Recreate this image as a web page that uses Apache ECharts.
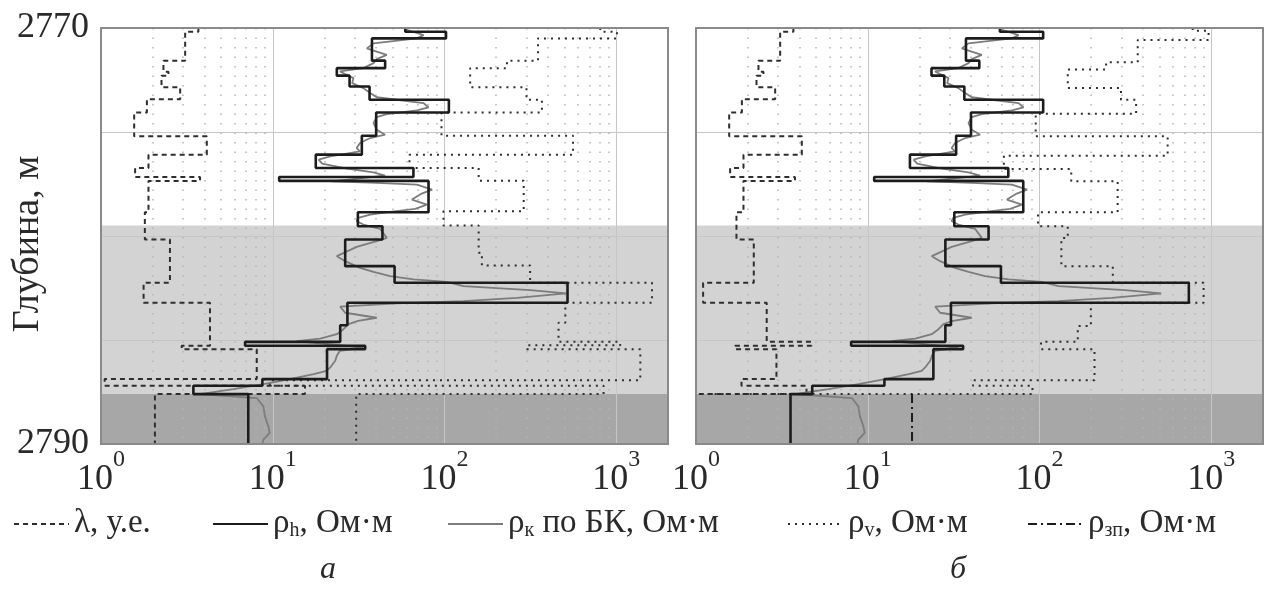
<!DOCTYPE html>
<html><head><meta charset="utf-8">
<script src="https://cdn.jsdelivr.net/npm/echarts@6/dist/echarts.min.js"></script>
<style>html,body{margin:0;padding:0;background:#fff;}#c{width:1266px;height:594px;}</style>
</head><body><div id="c"></div>
<script>
// ---------- DATA ----------
const depthMin = 2770, depthMax = 2790;
const depthLabels = [2770, 2790];
const xDecades = [1, 10, 100, 1000];
const minorTicks = [2,3,4,5,6,7,8,9,20,30,40,50,60,70,80,90,200,300,400,500,600,700,800,900];
const zoneLight = [2779.5, 2787.6];
const zoneDark = [2787.6, 2790];

// layer boundaries of the rho_h model (m)
const hDepth = [2770, 2770.18, 2770.50, 2771.57, 2771.93, 2772.29, 2772.81, 2773.45, 2774.06, 2775.18, 2776.09, 2776.73, 2777.16, 2777.35, 2778.86, 2779.53, 2780.17, 2781.45, 2782.25, 2783.21, 2784.29, 2785.09, 2785.28, 2785.44, 2786.88, 2787.20, 2787.60, 2790];
const rhoHLeft  = [59.1, 102, 37.8, 45.1, 23.6, 28.0, 36.6, 106, 40.0, 33.0, 17.8, 65.9, 10.9, 80.7, 31.3, 43.5, 26.4, 51.2, 520, 27.2, 24.7, 6.9, 34.5, 20.7, 8.7, 3.45, 7.2];
const rhoHRight = [58.8, 105, 37.3, 44.6, 23.5, 27.9, 36.5, 105, 39.9, 32.7, 17.6, 65.8, 10.9, 80.4, 31.9, 50.5, 28.3, 59.6, 740, 30.5, 28.3, 8.0, 35.9, 24.1, 12.5, 4.75, 3.55];

// lambda (anisotropy coefficient)
const lamLeftDepth = [2770, 2770.18, 2771.58, 2772.1, 2772.3, 2772.85, 2773.42, 2774.06, 2775.21, 2776.09, 2776.73, 2777.16, 2777.35, 2778.86, 2780.17, 2782.25, 2783.21, 2785.28, 2785.44, 2786.88, 2787.2, 2787.6, 2790];
const lamLeft = [3.69, 3.09, 2.31, 2.47, 2.25, 2.89, 1.85, 1.56, 4.13, 1.89, 1.58, 3.77, 1.89, 1.80, 2.52, 1.77, 4.31, 2.95, 8.07, 1.05, 15.4, 2.06];
const lamRightDepth = [2770, 2770.18, 2771.58, 2772.1, 2772.3, 2772.85, 2773.42, 2774.06, 2775.21, 2776.09, 2776.73, 2777.16, 2777.35, 2778.86, 2780.17, 2782.25, 2783.21, 2785.09, 2785.28, 2785.44, 2786.88, 2787.2, 2787.6, 2790];
const lamRight = [3.69, 3.09, 2.31, 2.47, 2.25, 2.89, 1.85, 1.56, 4.13, 1.89, 1.58, 3.77, 1.89, 1.72, 2.17, 1.10, 2.58, 4.7, 1.69, 2.94, 1.84, 4.4, 1.0];

// rho_v
const rvLeftDepth = [2770, 2770.18, 2770.50, 2771.58, 2771.93, 2772.85, 2773.45, 2774.06, 2775.18, 2776.09, 2776.73, 2777.34, 2778.81, 2779.50, 2780.81, 2781.42, 2782.25, 2783.21, 2784.17, 2785.09, 2785.25, 2785.44, 2786.93, 2787.2, 2787.6, 2790];
const rvLeft = [807, 1009, 350, 231, 141, 300, 369, 96, 560, 62.5, 158, 289, 98.6, 158, 165, 315, 1614, 505, 461, 1054, 302, 1380, 9.6, 843, 30.6];
const rvRightDepth = [2770, 2770.13, 2770.58, 2771.65, 2772.0, 2772.89, 2773.45, 2774.12, 2775.21, 2776.14, 2776.78, 2777.37, 2778.86, 2779.53, 2780.1, 2781.45, 2782.25, 2783.21, 2784.33, 2785.09, 2785.44, 2786.93, 2787.2, 2787.6, 2790];
const rvRight = [779, 964, 373, 244, 146, 298, 365, 95, 557, 62, 153, 285, 98, 146, 134, 267, 902, 199, 167, 102, 209, 41, 91, 1.0];

// rho_zp (invaded zone), right panel
const rzpDepth = [2787.6, 2790];
const rzp = [18.1];

// rho_k from lateral log (continuous curve)
const rkDepth = [2770.06, 2770.34, 2770.50, 2770.74, 2770.98, 2771.14, 2771.29, 2771.50, 2771.69, 2771.93, 2772.09, 2772.41, 2772.65, 2772.89, 2773.13, 2773.33, 2773.45, 2773.61, 2773.82, 2773.96, 2774.14, 2774.28, 2774.57, 2774.89, 2775.13, 2775.29, 2775.53, 2775.77, 2775.93, 2776.17, 2776.33, 2776.52, 2776.76, 2776.94, 2777.10, 2777.37, 2777.45, 2777.53, 2777.77, 2777.96, 2778.25, 2778.49, 2778.70, 2778.84, 2778.97, 2779.13, 2779.29, 2779.45, 2779.66, 2780.09, 2780.25, 2780.52, 2780.97, 2781.21, 2781.53, 2781.73, 2781.93, 2782.09, 2782.21, 2782.41, 2782.60, 2782.76, 2782.97, 2783.13, 2783.24, 2783.40, 2783.69, 2783.93, 2784.08, 2784.24, 2784.48, 2784.72, 2784.93, 2785.06, 2785.25, 2785.36, 2785.52, 2785.76, 2786.00, 2786.32, 2786.48, 2786.64, 2786.88, 2787.12, 2787.36, 2787.60, 2787.79, 2788.19, 2788.67, 2789.15, 2789.47, 2789.79, 2790.0];
const rkVal = [59, 75.5, 69, 38.6, 35.3, 40.3, 46.1, 40.3, 38.6, 33.7, 24.6, 29.5, 29, 33.7, 36.9, 40.3, 52.7, 75.5, 80.7, 69, 46.1, 40.3, 38.6, 40.3, 45.1, 36.9, 32.2, 30.8, 32.2, 21.6, 18.5, 19.4, 27, 38.6, 45.1, 22.1, 40.3, 69, 84.7, 73.7, 64.6, 78.9, 67.5, 48.2, 36.9, 31.4, 30.8, 33.7, 42.2, 46.1, 40.3, 30.8, 23.6, 26.4, 32.2, 38.6, 48.2, 66, 103, 129, 315, 511, 264, 129, 52.7, 24.7, 26.4, 40.3, 31.4, 27.6, 25.8, 23.6, 18.9, 13.8, 24.6, 33.7, 24.6, 23.6, 23.1, 21.6, 20.6, 17.3, 12.6, 8.83, 5.9, 3.77, 8.07, 8.82, 9.0, 9.43, 9.6, 8.82, 8.7];

const NAMES = {lam: 'λ, у.е.', rh: 'ρh, Ом·м', rk: 'ρк по БК, Ом·м', rv: 'ρv, Ом·м', rzp: 'ρзп, Ом·м'};
const legendRich = {
  [NAMES.lam]: '{t|λ, у.е.}',
  [NAMES.rh]: '{t|ρ}{sub|h}{t|, Ом·м}',
  [NAMES.rk]: '{t|ρ}{sub|к}{t| по БК, Ом·м}',
  [NAMES.rv]: '{t|ρ}{sub|v}{t|, Ом·м}',
  [NAMES.rzp]: '{t|ρ}{sub|зп}{t|, Ом·м}'
};

// ---------- HELPERS ----------
const FONT = '"Liberation Serif", "DejaVu Serif", serif';
const TXT = '#2a2a2a';
function stepPts(bounds, vals) {
  const p = [];
  for (let i = 0; i < vals.length; i++) { p.push([vals[i], bounds[i]]); p.push([vals[i], bounds[i + 1]]); }
  return p;
}
function curvePts(ds, vs) { return vs.map((v, i) => [v, ds[i]]); }

const ST = {
  lam: {color: '#2e2e2e', width: 2, type: [5, 4]},
  rh:  {color: '#1c1c1c', width: 2.6, type: 'solid'},
  rk:  {color: '#7c7c7c', width: 1.8, type: 'solid'},
  rv:  {color: '#2e2e2e', width: 2, type: [2, 5]},
  rzp: {color: '#1c1c1c', width: 2, type: [9, 4, 2, 4]}
};
function lineSeries(name, key, gi, data) {
  return {type: 'line', name, xAxisIndex: gi, yAxisIndex: gi, data, symbol: 'none', showSymbol: false,
    z: 3, silent: true, lineStyle: Object.assign({}, ST[key]), itemStyle: {color: ST[key].color}, animation: false};
}
function bgSeries(gi) {
  return {type: 'line', xAxisIndex: gi, yAxisIndex: gi, data: [[1, depthMin]], symbol: 'none', lineStyle: {opacity: 0}, silent: true, z: 0,
    markArea: {silent: true, z: 0, data: [
      [{yAxis: zoneLight[0], itemStyle: {color: '#d3d3d3'}}, {yAxis: zoneLight[1]}],
      [{yAxis: zoneDark[0], itemStyle: {color: '#a7a7a7'}}, {yAxis: zoneDark[1]}]
    ]},
    markLine: {silent: true, z: 1, symbol: ['none', 'none'], label: {show: false},
      lineStyle: {color: '#b4b4b4', type: [1.5, 8], width: 1.5},
      data: minorTicks.map(v => ({xAxis: v}))}
  };
}

const grids = [
  {left: 101, top: 28, width: 567, height: 416},
  {left: 696, top: 28, width: 567, height: 416}
];
const xAxes = grids.map((g, i) => ({
  type: 'log', logBase: 10, gridIndex: i, min: 1, max: 2000, z: 1,
  axisLine: {show: false}, axisTick: {show: false},
  splitLine: {show: true, lineStyle: {color: '#c6c6c6', width: 1}},
  axisLabel: {
    margin: 4,
    formatter: v => { const e = Math.log10(v); return Math.abs(e - Math.round(e)) < 1e-6 ? '{b|10}{s|' + Math.round(e) + '}' : ''; },
    rich: {
      b: {fontFamily: FONT, fontSize: 36, color: TXT, padding: [14, 0, 0, 0], verticalAlign: 'bottom'},
      s: {fontFamily: FONT, fontSize: 24, color: TXT, verticalAlign: 'top'}
    }
  }
}));
const yAxes = grids.map((g, i) => ({
  type: 'value', gridIndex: i, inverse: true, min: depthMin, max: depthMax, interval: 5, z: 1,
  axisLine: {show: false}, axisTick: {show: false},
  splitLine: {show: true, lineStyle: {color: '#c6c6c6', width: 1}},
  axisLabel: {show: i === 0, margin: 12, fontFamily: FONT, fontSize: 36, color: TXT,
    formatter: v => depthLabels.includes(v) ? String(v) : ''},
  name: i === 0 ? 'Глубина, м' : '', nameLocation: 'middle', nameGap: 54, nameRotate: 90,
  nameMoveOverlap: false,
  nameTextStyle: {fontFamily: FONT, fontSize: 38, color: TXT, padding: [0, 16, 0, 0]}
}));

const series = [
  bgSeries(0), bgSeries(1),
  lineSeries(NAMES.lam, 'lam', 0, stepPts(lamLeftDepth, lamLeft)),
  lineSeries(NAMES.rv, 'rv', 0, stepPts(rvLeftDepth, rvLeft)),
  lineSeries(NAMES.rk, 'rk', 0, curvePts(rkDepth, rkVal)),
  lineSeries(NAMES.rh, 'rh', 0, stepPts(hDepth, rhoHLeft)),
  lineSeries(NAMES.lam, 'lam', 1, stepPts(lamRightDepth, lamRight)),
  lineSeries(NAMES.rv, 'rv', 1, stepPts(rvRightDepth, rvRight)),
  lineSeries(NAMES.rzp, 'rzp', 1, stepPts(rzpDepth, rzp)),
  lineSeries(NAMES.rk, 'rk', 1, curvePts(rkDepth, rkVal)),
  lineSeries(NAMES.rh, 'rh', 1, stepPts(hDepth, rhoHRight))
];

const legendLeft = [[NAMES.lam, 8], [NAMES.rh, 207], [NAMES.rk, 442], [NAMES.rv, 782], [NAMES.rzp, 1022]];
const legends = legendLeft.map(([n, x]) => ({
  data: [n], left: x, top: 502, itemWidth: 55, itemHeight: 14, itemGap: 0, selectedMode: false,
  itemStyle: {opacity: 0},
  formatter: name => legendRich[name],
  textStyle: {
    fontFamily: FONT, color: TXT,
    rich: {
      t: {fontFamily: FONT, fontSize: 33, color: TXT, lineHeight: 34, padding: [0, 0, 8, 0], verticalAlign: 'top'},
      sub: {fontFamily: FONT, fontSize: 20, color: TXT, lineHeight: 20, verticalAlign: 'bottom'}
    }
  }
}));

const option = {
  animation: false,
  backgroundColor: '#ffffff',
  grid: grids.map(g => Object.assign({show: true, containLabel: false, outerBoundsMode: 'none', borderColor: '#8a8a8a', borderWidth: 2, backgroundColor: 'transparent', z: 4}, g)),
  xAxis: xAxes, yAxis: yAxes, legend: legends, series,
  graphic: [
    {type: 'text', x: 328, y: 570, style: {text: 'а', font: 'italic 32px "Liberation Serif"', fill: TXT, textAlign: 'center', textVerticalAlign: 'middle'}},
    {type: 'text', x: 958, y: 570, style: {text: 'б', font: 'italic 32px "Liberation Serif"', fill: TXT, textAlign: 'center', textVerticalAlign: 'middle'}}
  ]
};
const chart = echarts.init(document.getElementById('c'));
chart.setOption(option);
</script></body></html>
